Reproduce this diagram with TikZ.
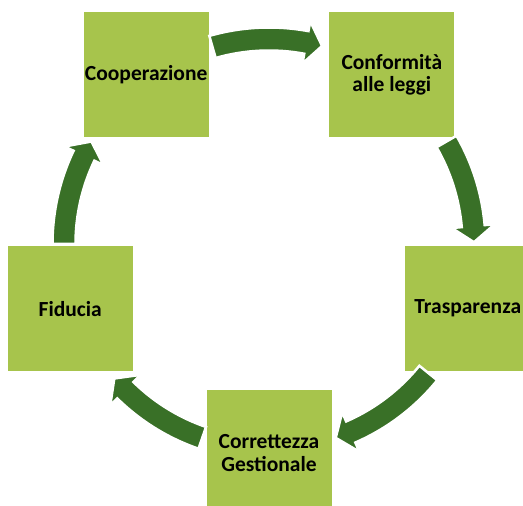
\documentclass[tikz,border=0pt]{standalone}
\usepackage{fontspec}
\setmainfont{Carlito}
\definecolor{boxgreen}{RGB}{167,196,76}
\definecolor{arrowgreen}{RGB}{57,112,39}
\begin{document}
\begin{tikzpicture}[x=1pt,y=1pt]
		\tikzset{declare function={R=209;r=205;w=11.5;h=21.5;d=4.5;},
			box/.style={fill=boxgreen,minimum size=125pt,inner sep=0pt,align=center,
				font=\fontsize{21.5}{22.5}\selectfont\bfseries}}
		\useasboundingbox (0,0) rectangle (523,506);
		\path 
		(269,262)coordinate (O)
		;
		% the five boxes on a pentagon
		\begin{scope}[shift={(O)}]
		\node[box] (coop) at (126:R) {Cooperazione};
		\node[box] (conf) at (54:R) {Conformità\\alle leggi};
		\node[box] (trasp) at (-18:R) {Trasparenza};
		\node[box] (corr) at (-90:R) {Correttezza\\Gestionale};
		\node[box] (fid) at (198:R) {Fiducia};
		% curved arrows between them
		\foreach \s/\e in {106/75,30/0.5,-39/-71,-109/-139,180/150}
		\filldraw[fill=arrowgreen,draw=white,line width=2.5pt,line join=miter]
		(\s:{r+w}) arc[start angle=\s,end angle={\e+d},radius={r+w}]
		--({\e+d}:{r+h})--(\e:r)--({\e+d}:{r-h})--({\e+d}:{r-w})
		arc[start angle={\e+d},end angle=\s,radius={r-w}]--cycle;
		\end{scope}
	\end{tikzpicture}
\end{document}
